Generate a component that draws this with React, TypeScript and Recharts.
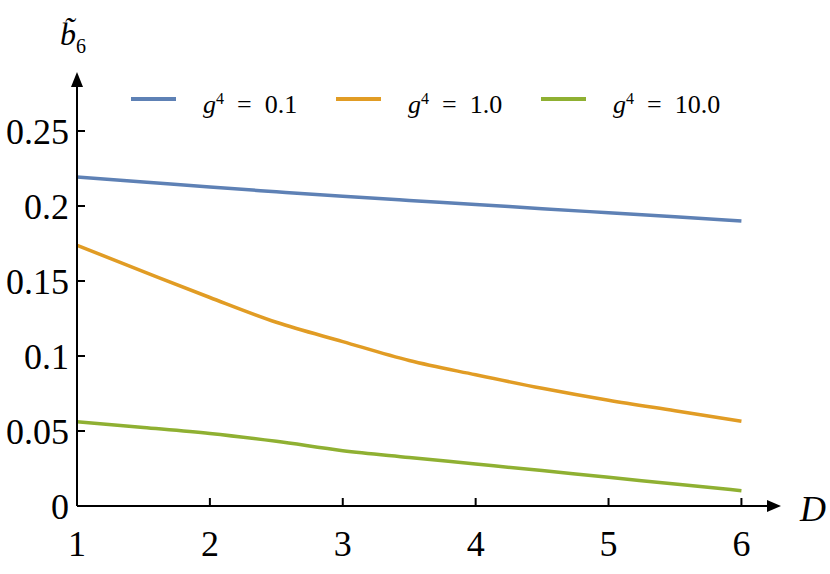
import React from "react"
import { LineChart, Line, XAxis, YAxis, Legend, ReferenceDot } from "recharts"

// D values along the x axis
const dValues = [1, 1.5, 2, 2.5, 3, 3.5, 4, 4.5, 5, 5.5, 6]

// b6 tilde for each coupling
const b6Small = [0.2193, 0.216, 0.2126, 0.2095, 0.2065, 0.2037, 0.201, 0.1982, 0.1955, 0.1928, 0.19]
const b6Mid = [0.1738, 0.1563, 0.139, 0.1225, 0.1096, 0.097, 0.0875, 0.0785, 0.0705, 0.0635, 0.0565]
const b6Large = [0.0562, 0.0524, 0.0484, 0.0431, 0.0369, 0.0324, 0.028, 0.0236, 0.0191, 0.0147, 0.0102]

const xTicks = [1, 2, 3, 4, 5, 6]
const yTicks = [0, 0.05, 0.1, 0.15, 0.2, 0.25]

const X_MAX = 6.2
const Y_MAX = 0.28

const SERIES = [
  { key: "s1", label: "0.1", color: "#5e81b5" },
  { key: "s2", label: "1.0", color: "#e19c24" },
  { key: "s3", label: "10.0", color: "#8fb032" },
]

const data = dValues.map((d, i) => ({ d, s1: b6Small[i], s2: b6Mid[i], s3: b6Large[i] }))

const FONT = "'Liberation Serif', 'DejaVu Serif', serif"

function XTick({ x, y, payload }: any) {
  return (
    <g>
      {payload.value !== 1 && <line x1={x} y1={y} x2={x} y2={y - 8} stroke="#000" strokeWidth={2} />}
      <text x={x} y={y + 50} textAnchor="middle" fontSize={36} fontFamily={FONT} fill="#000">
        {payload.value}
      </text>
    </g>
  )
}

function YTick({ x, y, payload }: any) {
  return (
    <g>
      {payload.value !== 0 && <line x1={x} y1={y} x2={x + 8} y2={y} stroke="#000" strokeWidth={2} />}
      <text x={x - 8} y={y + 13} textAnchor="end" fontSize={36} fontFamily={FONT} fill="#000">
        {String(payload.value)}
      </text>
    </g>
  )
}

function ArrowRight({ cx, cy }: any) {
  return <path d={`M${cx - 1},${cy - 6} L${cx + 13},${cy} L${cx - 1},${cy + 6} Z`} fill="#000" />
}

function ArrowUp({ cx, cy }: any) {
  return <path d={`M${cx - 6},${cy + 1} L${cx},${cy - 14} L${cx + 6},${cy + 1} Z`} fill="#000" />
}

function LegendContent() {
  return (
    <div style={{ position: "relative", height: 30, fontFamily: FONT }}>
      {SERIES.map((s, i) => (
        <div key={s.key} style={{ position: "absolute", left: i * 205, top: 0, height: 30 }}>
          <div style={{ position: "absolute", left: 0, top: 13, width: 45, height: 4, background: s.color }} />
          <div style={{ position: "absolute", left: 72, top: 0, whiteSpace: "nowrap", fontSize: 26, lineHeight: "30px" }}>
            <i>g</i>
            <sup style={{ fontSize: 16, verticalAlign: 9 }}>4</sup>
            {"\u2002=\u2002"}
            {s.label}
          </div>
        </div>
      ))}
    </div>
  )
}

export default function App() {
  return (
    <div style={{ position: "absolute", left: 0, top: 0, width: 830, height: 574, background: "#fff" }}>
      <LineChart width={830} height={574} data={data} margin={{ top: 86, right: 62, bottom: 8, left: 0 }}>
        <XAxis
          dataKey="d"
          type="number"
          domain={[1, X_MAX]}
          ticks={xTicks}
          height={60}
          tickSize={0}
          tickMargin={0}
          tickLine={false}
          axisLine={{ stroke: "#000", strokeWidth: 2 }}
          tick={<XTick />}
          interval={0}
        />
        <YAxis
          type="number"
          domain={[0, Y_MAX]}
          ticks={yTicks}
          width={77}
          tickSize={0}
          tickMargin={0}
          tickLine={false}
          axisLine={{ stroke: "#000", strokeWidth: 2 }}
          tick={<YTick />}
          interval={0}
        />
        <Legend
          verticalAlign="middle"
          align="center"
          content={<LegendContent />}
          wrapperStyle={{ top: 84, left: 131, width: 640 }}
        />
        {SERIES.map((s) => (
          <Line
            key={s.key}
            dataKey={s.key}
            name={s.label}
            type="monotone"
            stroke={s.color}
            strokeWidth={3.5}
            dot={false}
            isAnimationActive={false}
          />
        ))}
        <ReferenceDot x={X_MAX} y={0} ifOverflow="visible" shape={<ArrowRight />} />
        <ReferenceDot x={1} y={Y_MAX} ifOverflow="visible" shape={<ArrowUp />} />
      </LineChart>
      <svg width={830} height={574} style={{ position: "absolute", left: 0, top: 0, pointerEvents: "none" }}>
        <g fontFamily={FONT} fill="#000">
          <text x={60} y={45} fontSize={32} fontStyle="italic">
            {"b\u0303"}
            <tspan dy={8} fontSize={20} fontStyle="normal">6</tspan>
          </text>
          <text x={800} y={521} fontSize={36} fontStyle="italic">D</text>
        </g>
      </svg>
    </div>
  )
}
